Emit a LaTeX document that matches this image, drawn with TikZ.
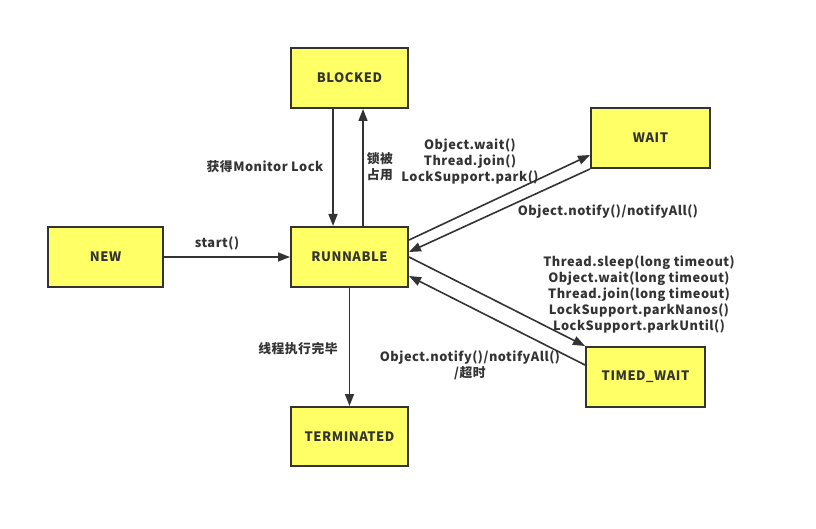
\documentclass[tikz,border=0pt]{standalone}
\usepackage{fontspec}
\setmainfont{Noto Sans CJK SC}[LetterSpace=4]
\usepackage{tikz}
\usetikzlibrary{arrows.meta}
\definecolor{stateyellow}{HTML}{FFFF66}
\definecolor{inkgray}{HTML}{333333}
\tikzset{
   state/.style={rectangle, draw=inkgray, line width=2pt, fill=stateyellow,
                 minimum width=117pt, minimum height=60pt, inner sep=0pt,
                 font=\fontsize{13}{15}\selectfont\bfseries, text=inkgray},
   trans/.style={-{Triangle[length=12pt,width=9pt]}, draw=inkgray, line width=1.6pt},
   lbl/.style={align=center, inner sep=0pt, text=inkgray,
               font=\fontsize{12.8}{16}\selectfont\bfseries}
}
\begin{document}
\begin{tikzpicture}[x=1pt,y=-1pt]
\useasboundingbox[fill=white] (0,0) rectangle (816,529);
% states
\node[state] (blocked) at (349.5,78) {BLOCKED};
\node[state, minimum width=115pt] (new) at (105.5,257) {NEW};
\node[state] (run) at (349.5,257) {RUNNABLE};
\node[state, minimum width=119pt] (wait) at (650.5,138) {WAIT};
\node[state, minimum width=119pt] (timed) at (645.5,377) {TIMED\_WAIT};
\node[state, minimum height=59pt] (term) at (349.5,436.5) {TERMINATED};

% transitions
\draw[trans] (new) -- (run);
\draw[trans] ([xshift=-16.5pt]blocked.south) -- ([xshift=-16.5pt]run.north);
\draw[trans] ([xshift=13.5pt]run.north) -- ([xshift=13.5pt]blocked.south);
\draw[trans] ([yshift=17pt]run.east) -- ([yshift=-17pt]wait.west);
\draw[trans] (wait.south west) -- ([yshift=5pt]run.east);
\draw[trans] (run.east) -- (timed.north west);
\draw[trans] ([yshift=12pt]timed.west) -- ([yshift=-19pt]run.east);
\draw[trans] (run.south) -- (term.north);

% labels
\node[lbl] (lstart) at (217,243) {start()};
\node[lbl] (lacq) at (265,167) {获得Monitor Lock};
\node[lbl] (lheld) at (380,167) {锁被\\占用};
\node[lbl] (lwait) at (470,161) {Object.wait()\\Thread.join()\\LockSupport.park()};
\node[lbl] (lnotify) at (608,212) {Object.notify()/notifyAll()};
\node[lbl] (ltimed) at (639,294) {Thread.sleep(long timeout)\\Object.wait(long timeout)\\Thread.join(long timeout)\\LockSupport.parkNanos()\\LockSupport.parkUntil()};
\node[lbl] (ldone) at (298,349) {线程执行完毕};
\node[lbl] (lback) at (470,365) {Object.notify()/notifyAll()\\/超时};
\end{tikzpicture}
\end{document}
